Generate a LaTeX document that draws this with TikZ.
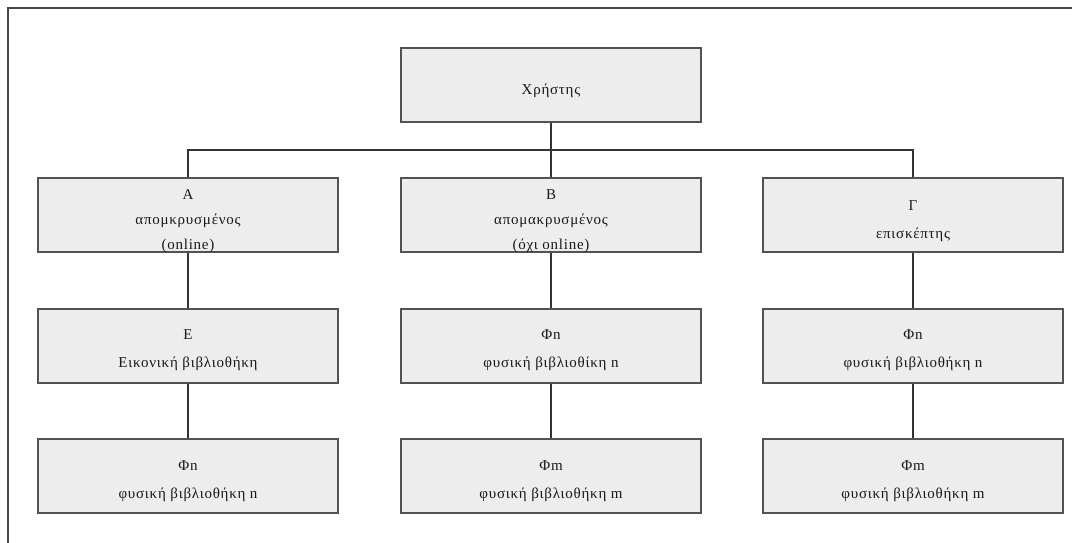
\documentclass[tikz,border=0pt]{standalone}
\usepackage{fontspec}
\setmainfont[LetterSpace=5]{Liberation Serif}
% centred stack of lines, lowered by an optional amount
\newcommand\boxtext[2][0pt]{\raisebox{#1}{\begin{tabular}{@{}c@{}}#2\end{tabular}}}
\begin{document}
\begin{tikzpicture}[x=1pt,y=-1pt,
  box/.style={draw=black!68,line width=1.6pt,fill=black!7,minimum width=300pt,minimum height=74pt,
    inner sep=0pt,text height=0pt,text depth=0pt,text=black!90,font=\fontsize{15}{25}\selectfont},
  twoline/.style={font=\fontsize{15}{28}\selectfont},
  link/.style={draw=black!80,line width=1.3pt},
  frame/.style={draw=black!72,line width=2.6pt}]
\useasboundingbox (0,0) rectangle (1072,543);
% page frame (top and left edges only)
\draw[frame] (8,543) -- (8,8) -- (1072,8);
% nodes
\node[box] (user) at (551,85) {\boxtext[-8pt]{Χρήστης}};
\node[box] (a) at (188,215) {\boxtext[-8pt]{Α\\απομκρυσμένος\\(online)}};
\node[box] (b) at (551,215) {\boxtext[-8pt]{Β\\απομακρυσμένος\\(όχι online)}};
\node[box,twoline] (c) at (913,215) {\boxtext[-7pt]{Γ\\επισκέπτης}};
\node[box,twoline] (a2) at (188,346) {\boxtext[-5pt]{Ε\\Εικονική βιβλιοθήκη}};
\node[box,twoline] (b2) at (551,346) {\boxtext[-5pt]{Φn\\φυσική βιβλιοθίκη n}};
\node[box,twoline] (c2) at (913,346) {\boxtext[-5pt]{Φn\\φυσική βιβλιοθήκη n}};
\node[box,twoline] (a3) at (188,476) {\boxtext[-6pt]{Φn\\φυσική βιβλιοθήκη n}};
\node[box,twoline] (b3) at (551,476) {\boxtext[-6pt]{Φm\\φυσική βιβλιοθήκη m}};
\node[box,twoline] (c3) at (913,476) {\boxtext[-6pt]{Φm\\φυσική βιβλιοθήκη m}};
% bus line
\coordinate (bus) at (551,150);
\draw[link] (user.south) -- (bus);
\draw[link] (a.north) |- (bus) -| (c.north);
\draw[link] (bus) -- (b.north);
% vertical links
\draw[link] (a.south) -- (a2.north);
\draw[link] (b.south) -- (b2.north);
\draw[link] (c.south) -- (c2.north);
\draw[link] (a2.south) -- (a3.north);
\draw[link] (b2.south) -- (b3.north);
\draw[link] (c2.south) -- (c3.north);
\end{tikzpicture}
\end{document}
